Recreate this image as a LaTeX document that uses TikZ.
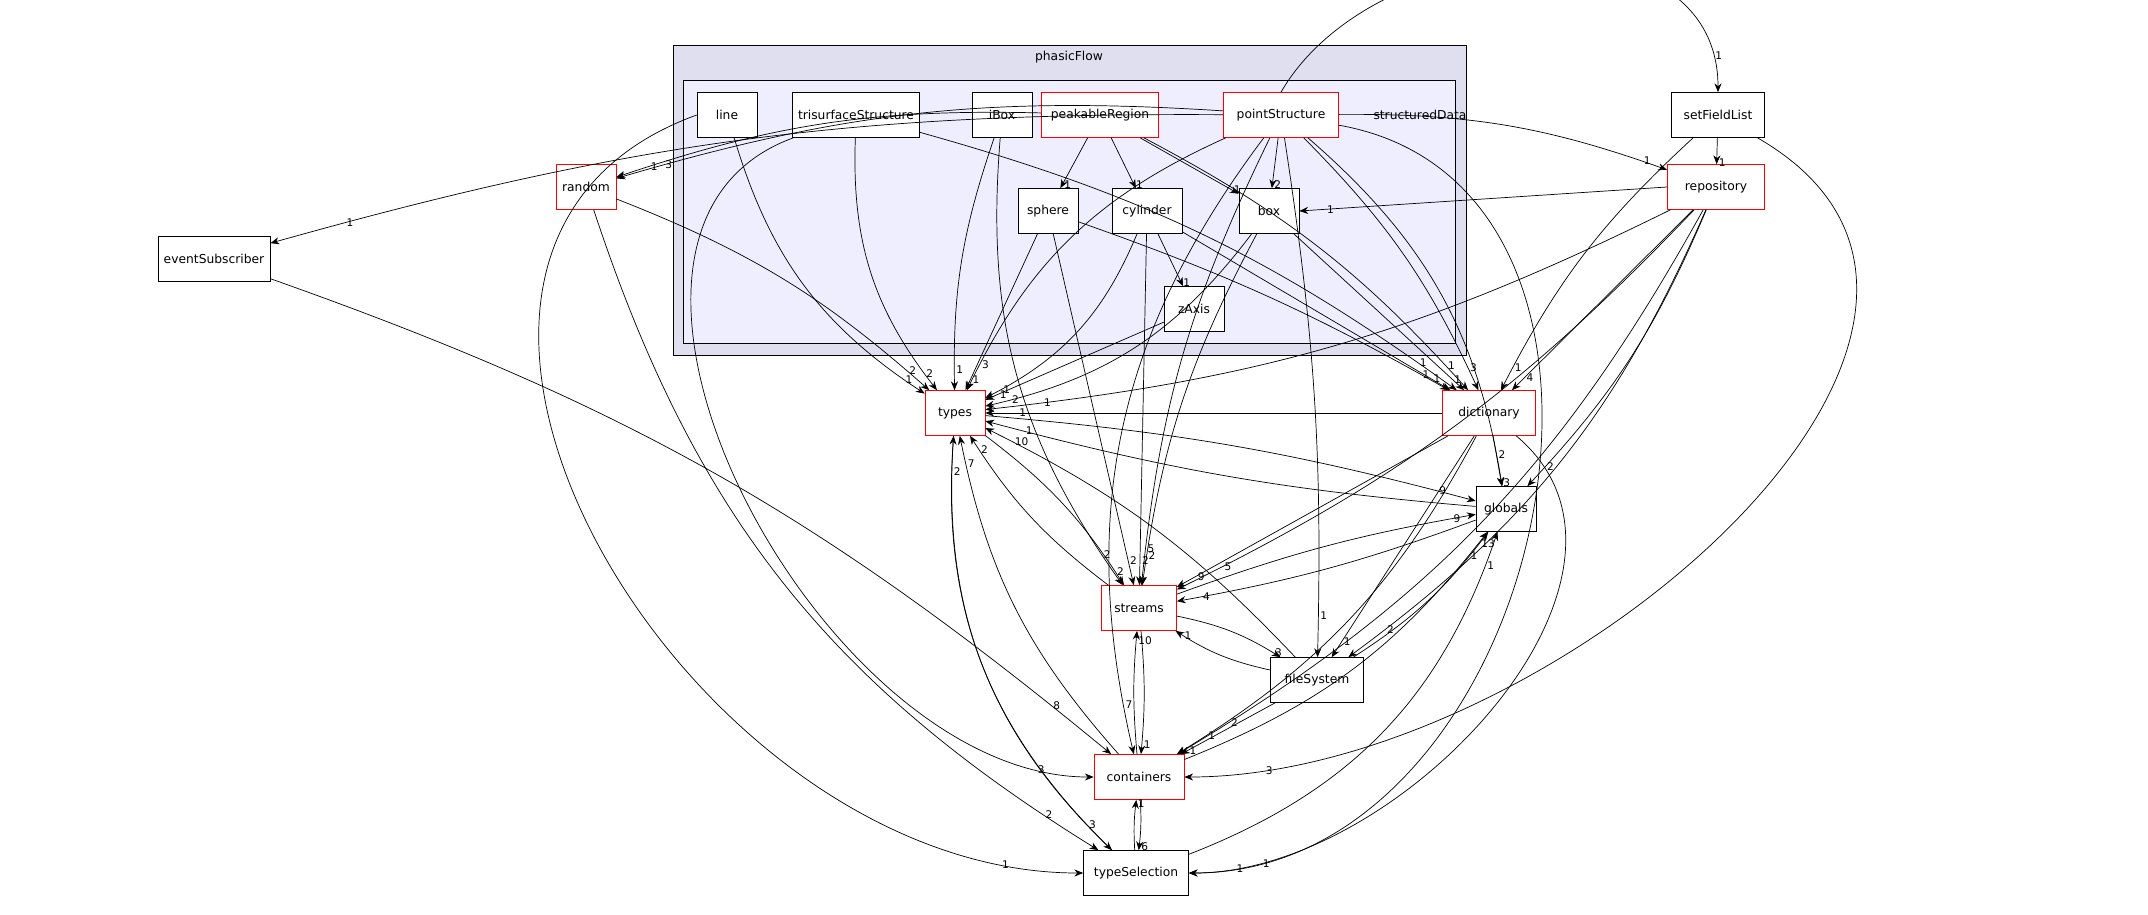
\documentclass[tikz,border=0pt]{standalone}
\usepackage{fontspec}
\setmainfont{DejaVu Sans}
\usetikzlibrary{arrows.meta,positioning}
\definecolor{clusterfill}{RGB}{223,223,240}
\definecolor{innerfill}{RGB}{238,238,255}

\tikzset{
  dir/.style={draw=black, fill=white, minimum width=1.2cm, minimum height=0.9cm, font=\fontsize{7}{8}\selectfont},
  reddir/.style={dir, draw=red},
  dep/.style={-{Stealth[length=5pt,width=4pt]}, black},
  lbl/.style={font=\fontsize{6}{7}\selectfont, inner sep=1pt}
}
\newcommand{\dep}[4][]{\draw[dep,#1] (#2) to node[lbl,pos=0.93,right] {#4} (#3);}

\begin{document}
\begin{tikzpicture}[x=0.02cm,y=-0.02cm]
  \useasboundingbox (0,0) rectangle (2148,914);
  % clusters
  \draw[fill=clusterfill] (673,45) rectangle (1466,355);
  \node[font=\fontsize{7}{8}\selectfont] at (1069,57) {phasicFlow};
  \draw[fill=innerfill] (683,80) rectangle (1455,343);
  \node[font=\fontsize{7}{8}\selectfont] at (1420,115) {structuredData};

  % nodes inside structuredData
  \node[dir] (line) at (727,115) {line};
  \node[dir, minimum width=2.2cm] (trisurf) at (856,115) {trisurfaceStructure};
  \node[dir] (ibox) at (1002,115) {iBox};
  \node[reddir, minimum width=2.35cm] (peak) at (1100,115) {peakableRegion};
  \node[reddir, minimum width=2.3cm] (pointStr) at (1281,115) {pointStructure};
  \node[dir] (sphere) at (1048,211) {sphere};
  \node[dir, minimum width=1.4cm] (cylinder) at (1147,211) {cylinder};
  \node[dir] (box) at (1269,211) {box};
  \node[dir] (zaxis) at (1194,309) {zAxis};

  % outside nodes
  \node[reddir] (random) at (586,187) {random};
  \node[dir, minimum width=1.9cm] (eventSub) at (214,259) {eventSubscriber};
  \node[dir, minimum width=1.85cm] (setField) at (1718,115) {setFieldList};
  \node[reddir, minimum width=1.95cm] (repository) at (1716,187) {repository};
  \node[reddir, minimum width=1.85cm] (dictionary) at (1489,413) {dictionary};
  \node[reddir] (types) at (955,413) {types};
  \node[dir] (globals) at (1506,509) {globals};
  \node[reddir, minimum width=1.5cm] (streams) at (1139,608) {streams};
  \node[dir, minimum width=1.85cm] (fileSystem) at (1317,680) {fileSystem};
  \node[reddir, minimum width=1.8cm] (containers) at (1139,777) {containers};
  \node[dir, minimum width=2.1cm] (typeSel) at (1136,873) {typeSelection};

  % dependencies
  \dep[bend right=20]{line}{types}{1}
  \dep[out=200,in=180,looseness=1.2]{line.west}{typeSel.west}{1}
  \dep[bend right=20]{trisurf}{types}{2}
  \dep[out=200,in=180]{trisurf}{containers.west}{3}
  \dep[bend left=10]{trisurf}{dictionary}{1}
  \dep[bend right=10]{ibox}{types}{1}
  \dep[bend right=20]{ibox}{streams}{2}
  \dep{peak}{sphere}{1}
  \dep{peak}{cylinder}{1}
  \dep{peak}{box}{1}
  \dep[bend right=10]{peak}{random}{1}
  \dep[bend left=10]{peak}{dictionary}{1}
  \dep{pointStr}{box}{2}
  \dep[out=60,in=90,looseness=1.1]{pointStr.north}{setField.north}{1}
  \dep[bend right=8]{pointStr}{eventSub}{1}
  \dep[bend right=10]{pointStr}{random}{3}
  \dep[bend right=20]{pointStr}{types}{3}
  \dep[bend right=10]{pointStr}{streams}{5}
  \dep[bend right=25]{pointStr}{containers}{7}
  \dep[bend left=10]{pointStr}{dictionary}{3}
  \dep[bend left=20]{pointStr}{globals}{2}
  \dep[bend left=10]{pointStr}{repository}{1}
  \dep[bend left=5]{pointStr}{fileSystem}{1}
  \dep[out=-10,in=0,looseness=1.2]{pointStr}{typeSel.east}{1}
  \dep{sphere}{types}{1}
  \dep{sphere}{streams}{2}
  \dep[bend left=5]{sphere}{dictionary}{1}
  \dep{cylinder}{zaxis}{1}
  \dep{cylinder}{streams}{2}
  \dep[bend left=20]{cylinder}{types}{1}
  \dep{cylinder}{dictionary}{1}
  \dep[bend left=20]{box}{types}{2}
  \dep[bend right=10]{box}{streams}{2}
  \dep{box}{dictionary}{1}
  \dep{zaxis}{types}{1}
  \dep[bend left=10]{random}{types}{2}
  \dep[bend right=20]{random}{typeSel}{2}
  \dep[bend left=10]{eventSub}{containers}{8}
  \dep{setField}{repository}{1}
  \dep[bend right=10]{setField}{dictionary}{1}
  \dep[out=-30,in=0,looseness=1.1]{setField}{containers.east}{3}
  \dep{repository.west}{box.east}{1}
  \dep{repository}{dictionary}{4}
  \dep[bend left=10]{repository}{types}{1}
  \dep[bend left=10]{repository}{globals}{2}
  \dep[bend left=10]{repository}{streams}{5}
  \dep[bend left=15]{repository}{containers}{2}
  \dep[bend left=15]{repository}{fileSystem}{2}
  \dep{dictionary}{types}{1}
  \dep{dictionary}{globals}{3}
  \dep{dictionary}{streams}{9}
  \dep{dictionary}{fileSystem}{1}
  \dep[bend left=15]{dictionary}{containers}{1}
  \dep[out=-40,in=0]{dictionary}{typeSel}{1}
  \dep[bend left=5]{types}{globals}{9}
  \dep[bend left=5]{globals}{types}{1}
  \dep[bend left=10]{types}{streams}{2}
  \dep[bend left=10]{streams}{types}{2}
  \dep[bend right=25]{types}{typeSel}{3}
  \dep[bend left=5]{globals}{streams}{4}
  \dep[bend left=5]{streams}{globals}{9}
  \dep[bend left=10]{streams}{fileSystem}{3}
  \dep[bend left=10]{fileSystem}{streams}{1}
  \dep[bend right=10]{fileSystem}{globals}{13}
  \dep{fileSystem}{containers}{1}
  \dep[bend right=10]{fileSystem}{types}{10}
  \dep[bend left=5]{streams}{containers}{1}
  \dep[bend left=5]{containers}{streams}{10}
  \dep[bend left=5]{containers}{typeSel}{6}
  \dep[bend left=5]{typeSel}{containers}{1}
  \dep[bend left=15]{containers}{types}{7}
  \dep[bend right=15]{containers}{globals}{1}
  \dep[bend right=25]{typeSel}{globals}{1}
  \dep[bend left=25]{typeSel}{types}{2}
\end{tikzpicture}
\end{document}
